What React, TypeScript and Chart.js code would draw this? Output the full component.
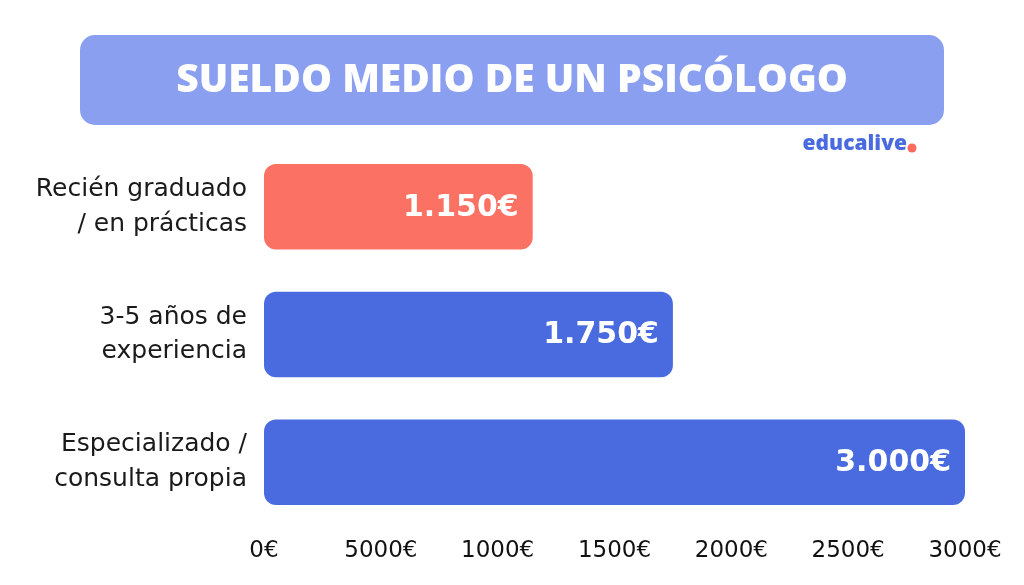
import React, { useEffect, useRef } from "react";
import { Chart, registerables } from "chart.js";

Chart.register(...registerables);

const categories: string[][] = [
  ["Recién graduado", "/ en prácticas"],
  ["3-5 años de", "experiencia"],
  ["Especializado /", "consulta propia"],
];
const salaries: number[] = [1150, 1750, 3000];
const valueLabels: string[] = ["1.150€", "1.750€", "3.000€"];
const barColors: string[] = ["#fb7264", "#4a6be0", "#4a6be0"];
const tickLabels: string[] = ["0€", "5000€", "1000€", "1500€", "2000€", "2500€", "3000€"];
const title = "SUELDO MEDIO DE UN PSICÓLOGO";
const brand = "educalive";

const FONT = "'Open Sans', 'Noto Sans', sans-serif";
const WIDE = "'DejaVu Sans', sans-serif";

const decorPlugin = {
  id: "decor",
  beforeDraw(chart: any) {
    const ctx = chart.ctx as CanvasRenderingContext2D;
    ctx.save();
    ctx.fillStyle = "#ffffff";
    ctx.fillRect(0, 0, chart.width, chart.height);
    // banner
    ctx.fillStyle = "#8a9ff0";
    ctx.beginPath();
    (ctx as any).roundRect(80, 35, 864, 90, 15);
    ctx.fill();
    ctx.fillStyle = "#ffffff";
    ctx.font = `800 39px ${FONT}`;
    ctx.textAlign = "center";
    ctx.textBaseline = "middle";
    ctx.fillText(title, 512, 81);
    // brand
    ctx.fillStyle = "#4a6be0";
    ctx.font = `800 21px ${FONT}`;
    ctx.textAlign = "right";
    ctx.textBaseline = "alphabetic";
    ctx.fillText(brand, 907, 150);
    ctx.fillStyle = "#fb6a5c";
    ctx.beginPath();
    ctx.arc(912, 148, 4.5, 0, Math.PI * 2);
    ctx.fill();
    ctx.restore();
  },
  afterDatasetsDraw(chart: any) {
    const ctx = chart.ctx as CanvasRenderingContext2D;
    const meta = chart.getDatasetMeta(0);
    ctx.save();
    ctx.fillStyle = "#ffffff";
    ctx.font = `700 30px ${WIDE}`;
    ctx.textAlign = "right";
    ctx.textBaseline = "middle";
    meta.data.forEach((bar: any, i: number) => {
      ctx.fillText(valueLabels[i], bar.x - 14, bar.y + 1);
    });
    ctx.restore();
  },
};

export default function App() {
  const ref = useRef<HTMLCanvasElement | null>(null);
  useEffect(() => {
    if (!ref.current) return;
    const chart = new Chart(ref.current, {
      type: "bar",
      data: {
        labels: categories,
        datasets: [
          {
            data: salaries,
            backgroundColor: barColors,
            borderRadius: 12,
            borderSkipped: false,
            barPercentage: 0.67,
            categoryPercentage: 1,
          },
        ],
      },
      options: {
        indexAxis: "y",
        animation: false,
        responsive: false,
        maintainAspectRatio: false,
        layout: { padding: { top: 143, right: 59, left: 0, bottom: 0 } },
        plugins: {
          legend: { display: false },
          tooltip: { enabled: false },
          title: { display: false },
        },
        scales: {
          x: {
            min: 0,
            max: 3000,
            grid: { display: false, drawTicks: false },
            border: { display: false },
            afterFit: (s: any) => {
              s.height = 59;
            },
            ticks: {
              stepSize: 500,
              padding: 11,
              color: "#111111",
              font: { family: WIDE, size: 23 },
              maxRotation: 0,
              autoSkip: false,
              callback: (_v: any, i: number) => tickLabels[i],
            },
          },
          y: {
            grid: { display: false, drawTicks: false },
            border: { display: false },
            afterFit: (s: any) => {
              s.width = 264;
            },
            ticks: {
              padding: 17,
              color: "#1a1a1a",
              font: { family: WIDE, size: 25, lineHeight: 1.38 },
            },
          },
        },
      },
      plugins: [decorPlugin],
    });
    return () => chart.destroy();
  }, []);
  return (
    <div style={{ position: "fixed", left: 0, top: 0, width: 1024, height: 585, background: "#fff" }}>
      <canvas ref={ref} width={1024} height={585} style={{ display: "block" }} />
    </div>
  );
}
